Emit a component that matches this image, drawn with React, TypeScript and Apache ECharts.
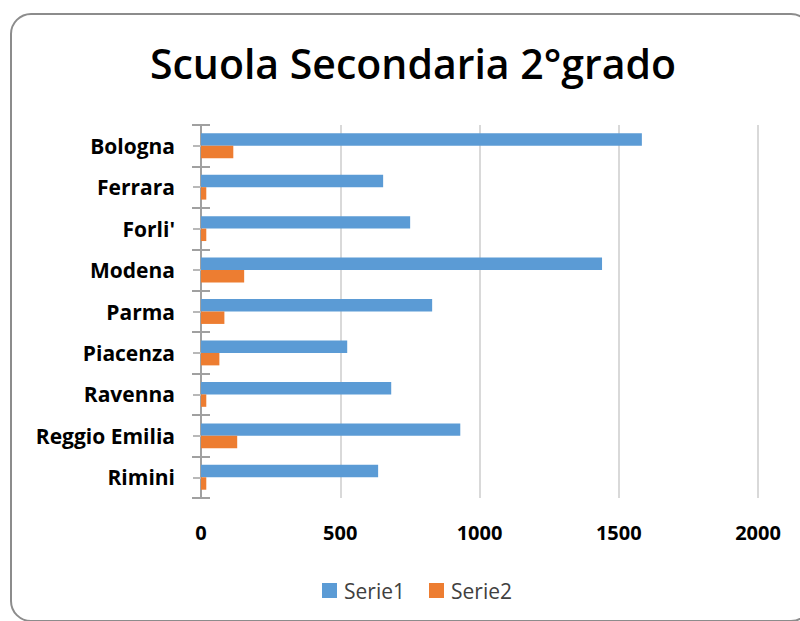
import React, { useEffect, useRef } from "react";
import * as echarts from "echarts";

const categories = ["Bologna", "Ferrara", "Forli'", "Modena", "Parma", "Piacenza", "Ravenna", "Reggio Emilia", "Rimini"];
const serie1 = [1583, 654, 751, 1440, 830, 525, 683, 931, 636];
const serie2 = [116, 19, 19, 155, 84, 66, 19, 130, 19];
const seriesNames = ["Serie1", "Serie2"];
const titleText = "Scuola Secondaria 2°grado";

const FONT = "'Open Sans', 'Noto Sans', sans-serif";

export default function App() {
  const ref = useRef<HTMLDivElement>(null);
  useEffect(() => {
    document.body.style.margin = "0";
    if (!ref.current) return;
    const chart = echarts.init(ref.current, undefined, { renderer: "svg" });
    const catAxisBase = {
      type: "category" as const,
      data: categories,
      inverse: true,
      position: "left" as const,
    };
    chart.setOption({
      animation: false,
      backgroundColor: "#ffffff",
      graphic: [
        {
          type: "rect",
          shape: { x: 11, y: 14, width: 800, height: 607, r: 20 },
          style: { fill: "none", stroke: "#8c8c8c", lineWidth: 2 },
          z: -10,
        },
      ],
      title: {
        text: titleText,
        left: 408,
        textAlign: "center",
        top: 37,
        textStyle: { fontFamily: FONT, fontSize: 41, fontWeight: 600, color: "#000000" },
      },
      legend: {
        data: seriesNames,
        left: 317,
        top: 575,
        icon: "rect",
        itemWidth: 15,
        itemHeight: 15,
        itemGap: 24,
        textStyle: { fontFamily: FONT, fontSize: 21, color: "#404040", padding: [0, 0, 0, 2] },
      },
      grid: { left: 201, right: 42, top: 125, bottom: 123, containLabel: false },
      xAxis: {
        type: "value",
        min: 0,
        max: 2000,
        interval: 500,
        axisLine: { show: false },
        axisTick: { show: false },
        axisLabel: {
          fontFamily: FONT,
          fontSize: 20,
          fontWeight: "bold",
          color: "#000000",
          margin: 24,
          formatter: (v: number) => String(v),
        },
        splitLine: { show: true, lineStyle: { color: "#d9d9d9", width: 2 } },
      },
      yAxis: [
        {
          ...catAxisBase,
          axisLine: { show: true, lineStyle: { color: "#a0a0a0", width: 2 } },
          axisTick: { show: true, inside: false, length: 9, lineStyle: { color: "#a0a0a0", width: 2 } },
          axisLabel: { fontFamily: FONT, fontSize: 21, fontWeight: "bold", color: "#000000", margin: 26 },
        },
        {
          ...catAxisBase,
          axisLine: { show: false },
          axisTick: { show: true, inside: true, length: 9, lineStyle: { color: "#a0a0a0", width: 2 } },
          axisLabel: { show: false },
        },
        {
          ...catAxisBase,
          axisLine: { show: false },
          axisTick: { show: true, inside: false, alignWithLabel: true, length: 8, lineStyle: { color: "#b8b8b8", width: 2 } },
          axisLabel: { show: false },
        },
      ],
      series: [
        {
          name: seriesNames[0],
          type: "bar",
          yAxisIndex: 0,
          data: serie1,
          barGap: "0%",
          barCategoryGap: "40%",
          itemStyle: { color: "#5B9BD5" },
        },
        {
          name: seriesNames[1],
          type: "bar",
          yAxisIndex: 0,
          data: serie2,
          barGap: "0%",
          barCategoryGap: "40%",
          itemStyle: { color: "#ED7D31" },
        },
      ],
    });
    return () => chart.dispose();
  }, []);
  return <div ref={ref} style={{ width: 800, height: 621 }} />;
}
